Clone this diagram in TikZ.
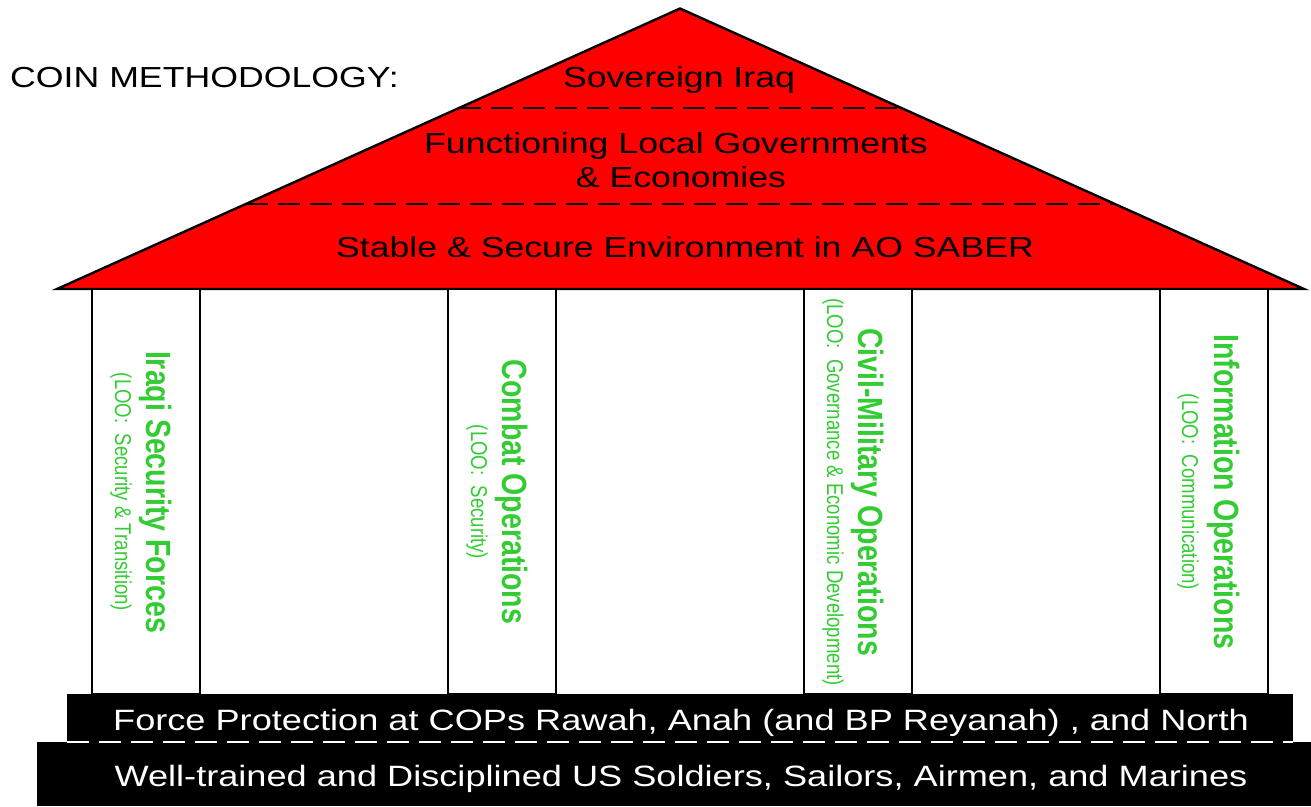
\documentclass[tikz,border=0pt]{standalone}
\usepackage{fontspec}
\setmainfont{Liberation Sans}
\usetikzlibrary{calc}
\definecolor{roofred}{RGB}{255,0,0}
\definecolor{loogreen}{RGB}{51,204,51}
\newcommand{\hstretch}[1]{\scalebox{1.23}[1]{#1}}
\newcommand{\vstretch}[1]{\scalebox{1}[1.23]{#1}}
\begin{document}
\begin{tikzpicture}[x=1pt,y=-1pt,
  roofline/.style={line width=2.4pt, line join=miter},
  divider/.style={line width=2.2pt, dash pattern=on 22pt off 10pt},
  pillarbox/.style={draw=black, fill=white, line width=2.7pt},
  rooftext/.style={font=\fontsize{29}{34}\selectfont, anchor=base, inner sep=0pt},
  basetext/.style={font=\fontsize{29.4}{32}\selectfont, anchor=base, inner sep=0pt, text=white},
  loobold/.style={font=\fontsize{28.5}{32}\selectfont\bfseries, text=loogreen, anchor=base, inner sep=0pt, rotate=-90},
  loosmall/.style={font=\fontsize{18.6}{22}\selectfont, text=loogreen, anchor=base, inner sep=0pt, rotate=-90}]
\useasboundingbox (0,0) rectangle (1311,806);
% roof
\coordinate (A) at (680,8.5);
\coordinate (L) at (57,289);
\coordinate (R) at (1304,289);
\filldraw[fill=roofred, roofline] (L) -- (A) -- (R) -- cycle;
\coordinate (d1l) at ($(A)!0.355!(L)$);
\coordinate (d1r) at ($(A)!0.355!(R)$);
\coordinate (d2l) at ($(A)!0.697!(L)$);
\coordinate (d2r) at ($(A)!0.697!(R)$);
\draw[divider] (d1l) -- (d1r);
\draw[divider] (d2l) -- (d2r);
% pillars
\draw[pillarbox] (92,289) rectangle (200,694);
\draw[pillarbox] (448,289) rectangle (556,694);
\draw[pillarbox] (804,289) rectangle (912,694);
\draw[pillarbox] (1160,289) rectangle (1268,694);
% base
\fill[black] (67,694) rectangle (1293,742);
\fill[black] (37,742) rectangle (1311,806);
\coordinate (bl) at (67,742);
\coordinate (br) at (1293,742);
\draw[divider, white] (bl) -- (br);
% texts
\node[rooftext, anchor=base west] (coin) at (10,87) {\hstretch{COIN METHODOLOGY:}};
\node[rooftext] (sov) at (679,87) {\hstretch{Sovereign Iraq}};
\node[rooftext] (flg1) at (676,153) {\hstretch{Functioning Local Governments}};
\node[rooftext] (flg2) at (681,187) {\hstretch{\& Economies}};
\node[rooftext] (sse) at (685,257) {\hstretch{Stable \& Secure Environment in AO SABER}};
\node[basetext] (fp) at (681,730) {\hstretch{Force Protection at COPs Rawah, Anah (and BP Reyanah) , and North}};
\node[basetext] (wt) at (681,786) {\hstretch{Well-trained and Disciplined US Soldiers, Sailors, Airmen, and Marines}};
% pillar labels
\node[loobold] (isf) at (146,492) {\vstretch{Iraqi Security Forces}};
\node[loosmall] (isfl) at (115,492) {\vstretch{(LOO:\ \ Security \& Transition)}};
\node[loobold] (cbt) at (502,492) {\vstretch{Combat Operations}};
\node[loosmall] (cbtl) at (471,492) {\vstretch{(LOO:\ \ Security)}};
\node[loobold] (cmo) at (858,492) {\vstretch{Civil-Military Operations}};
\node[loosmall] (cmol) at (827,492) {\vstretch{(LOO:\ \ Governance \& Economic Development)}};
\node[loobold] (io) at (1214,492) {\vstretch{Information Operations}};
\node[loosmall] (iol) at (1182,492) {\vstretch{(LOO:\ \ Communication)}};
\end{tikzpicture}
\end{document}
